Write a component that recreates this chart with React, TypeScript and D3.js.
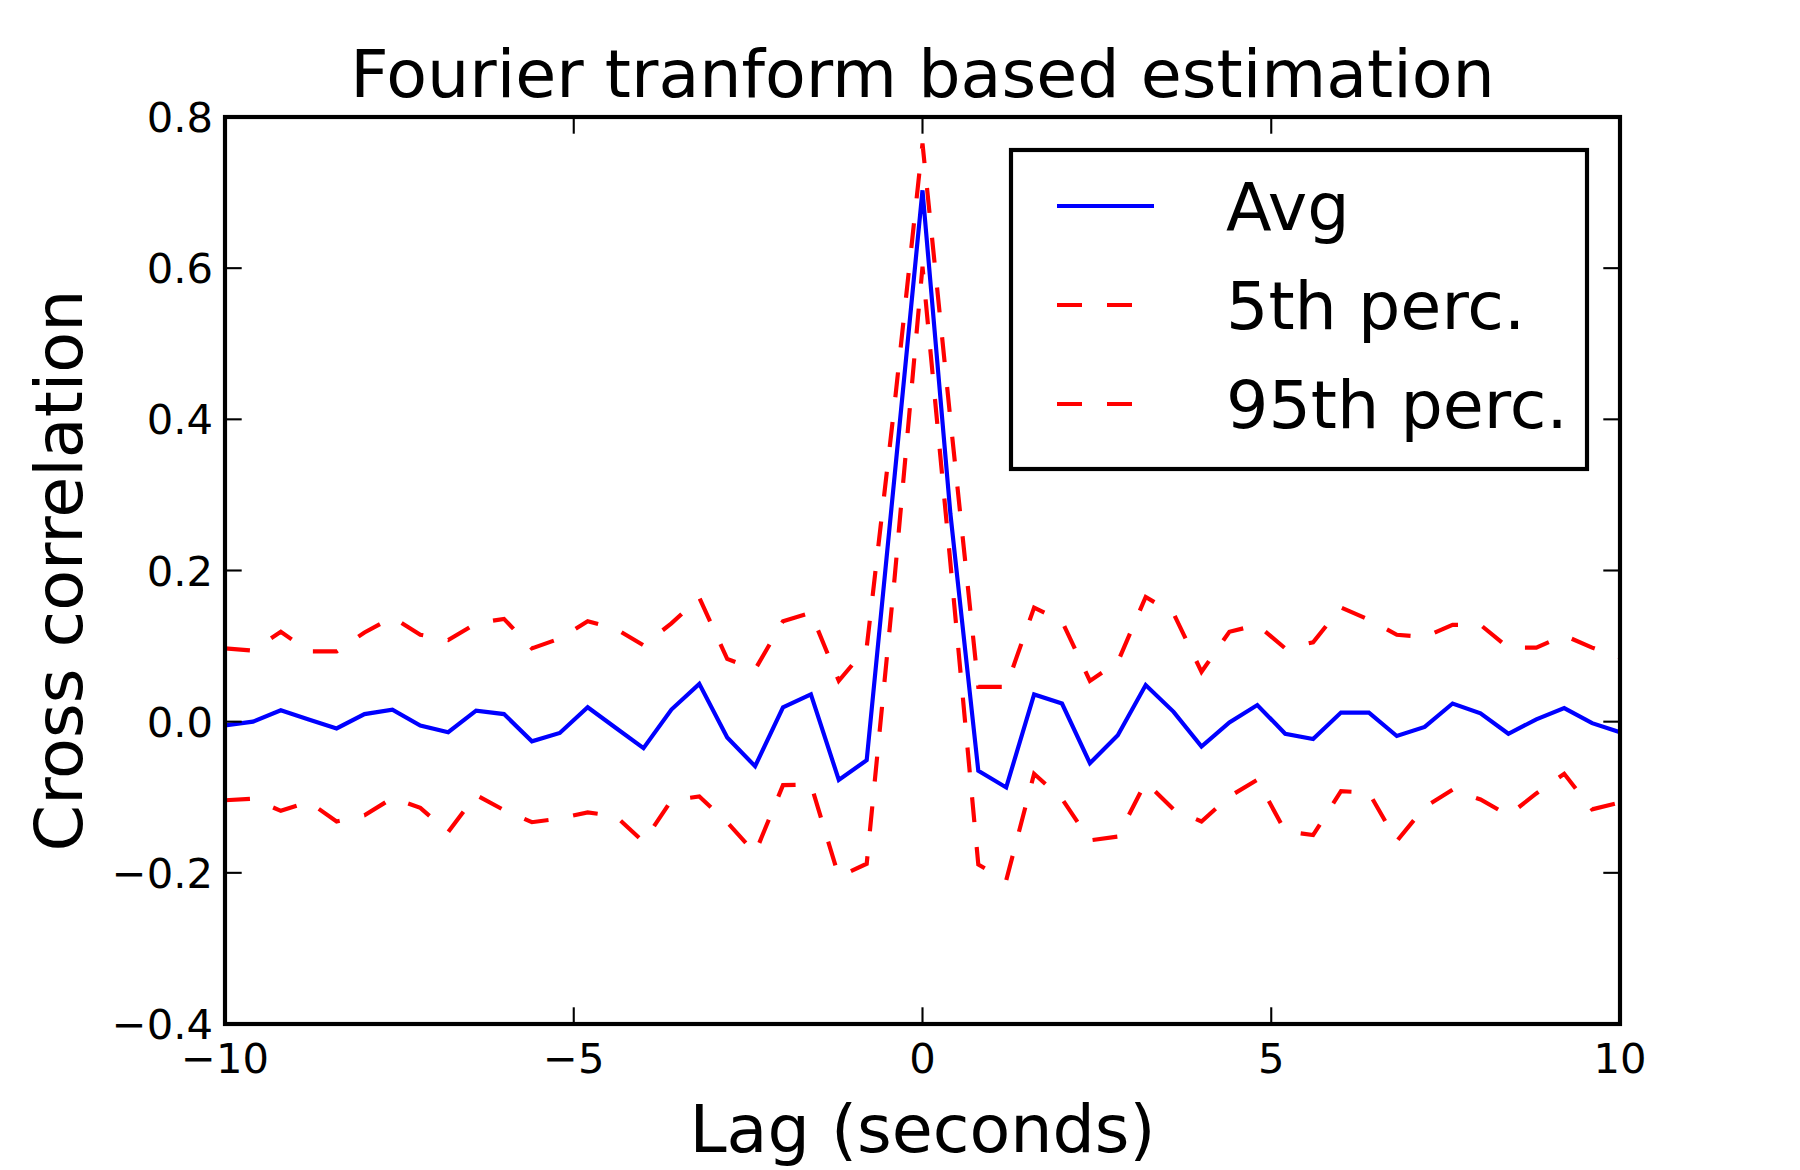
import React from "react";
import * as d3 from "d3";

const lags = [
  -10, -9.6, -9.2, -8.8, -8.4, -8, -7.6, -7.2, -6.8, -6.4, -6, -5.6, -5.2, -4.8, -4.4, -4, -3.6,
  -3.2, -2.8, -2.4, -2, -1.6, -1.2, -0.8, -0.4, 0, 0.4, 0.8, 1.2, 1.6, 2, 2.4, 2.8, 3.2, 3.6, 4,
  4.4, 4.8, 5.2, 5.6, 6, 6.4, 6.8, 7.2, 7.6, 8, 8.4, 8.8, 9.2, 9.6, 10,
];

const avg = [
  -0.005, 0.0, 0.015, 0.003, -0.009, 0.01, 0.016, -0.005, -0.014, 0.0145, 0.01, -0.026, -0.015,
  0.019, -0.008, -0.035, 0.016, 0.05, -0.021, -0.059, 0.019, 0.036, -0.077, -0.051, 0.325, 0.703,
  0.275, -0.065, -0.087, 0.036, 0.024, -0.055, -0.018, 0.0485, 0.013, -0.033, -0.001, 0.022,
  -0.016, -0.023, 0.012, 0.012, -0.019, -0.007, 0.024, 0.011, -0.016, 0.003, 0.018, -0.002, -0.014,
];

const perc5 = [
  -0.104, -0.102, -0.118, -0.106, -0.132, -0.124, -0.101, -0.114, -0.146, -0.097, -0.117, -0.133,
  -0.128, -0.12, -0.125, -0.159, -0.104, -0.099, -0.133, -0.174, -0.084, -0.083, -0.205, -0.188,
  0.19, 0.602, 0.21, -0.189, -0.21, -0.069, -0.102, -0.157, -0.152, -0.08, -0.116, -0.132, -0.099,
  -0.077, -0.145, -0.15, -0.092, -0.094, -0.158, -0.113, -0.09, -0.103, -0.124, -0.095, -0.069,
  -0.116, -0.107,
];

const perc95 = [
  0.097, 0.094, 0.119, 0.093, 0.093, 0.118, 0.138, 0.115, 0.108, 0.13, 0.136, 0.097, 0.11, 0.133,
  0.123, 0.101, 0.13, 0.164, 0.083, 0.069, 0.133, 0.144, 0.054, 0.098, 0.42, 0.765, 0.4, 0.046,
  0.046, 0.151, 0.133, 0.054, 0.079, 0.165, 0.143, 0.066, 0.119, 0.128, 0.097, 0.105, 0.151, 0.135,
  0.115, 0.112, 0.128, 0.128, 0.098, 0.098, 0.114, 0.098, 0.085,
];

const xTicks = [-10, -5, 0, 5, 10];
const yTicks = [-0.4, -0.2, 0.0, 0.2, 0.4, 0.6, 0.8];

const seriesNames = ["Avg", "5th perc.", "95th perc."];

const W = 1800;
const H = 1170;
const M = { left: 225, right: 1620, top: 117, bottom: 1024 };
const FONT = "'DejaVu Sans', 'Bitstream Vera Sans', sans-serif";

const fmtY = (v: number) => {
  const s = Math.abs(v).toFixed(1);
  return v < -1e-9 ? "\u2212" + s : s;
};
const fmtX = (v: number) => (v < 0 ? "\u2212" + Math.abs(v) : String(v));

export default function App() {
  const x = d3.scaleLinear().domain([-10, 10]).range([M.left, M.right]);
  const y = d3.scaleLinear().domain([-0.4, 0.8]).range([M.bottom, M.top]);

  const line = d3
    .line<number>()
    .x((_, i) => x(lags[i]))
    .y((d) => y(d));

  const tickLen = 16.7;
  const tickW = 2.1;
  const lw = 4.17;

  const legend = { x0: 1011, x1: 1587, y0: 150, y1: 469 };
  const legRows = [206, 305, 404];
  const legLineX0 = 1057;
  const legLineX1 = 1154;
  const legTextX = 1226;

  const styles = [
    { stroke: "#0000ff", dash: undefined as string | undefined },
    { stroke: "#ff0000", dash: "25 25" },
    { stroke: "#ff0000", dash: "25 25" },
  ];

  return (
    <svg
      width={W}
      height={H}
      viewBox={`0 0 ${W} ${H}`}
      style={{ position: "absolute", left: 0, top: 0, background: "#ffffff" }}
      fontFamily={FONT}
    >
      <rect x={0} y={0} width={W} height={H} fill="#ffffff" />
      <defs>
        <clipPath id="plotClip">
          <rect x={M.left} y={M.top} width={M.right - M.left} height={M.bottom - M.top} />
        </clipPath>
      </defs>

      {/* data lines */}
      <g clipPath="url(#plotClip)" fill="none">
        <path d={line(perc5) || ""} stroke="#ff0000" strokeWidth={lw} strokeDasharray="25 25" strokeLinejoin="miter" />
        <path d={line(perc95) || ""} stroke="#ff0000" strokeWidth={lw} strokeDasharray="25 25" strokeLinejoin="miter" />
        <path d={line(avg) || ""} stroke="#0000ff" strokeWidth={lw} strokeLinejoin="miter" />
      </g>

      {/* ticks */}
      <g stroke="#000000" strokeWidth={tickW}>
        {xTicks.map((t) => (
          <g key={"xt" + t}>
            <line x1={x(t)} x2={x(t)} y1={M.bottom} y2={M.bottom - tickLen} />
            <line x1={x(t)} x2={x(t)} y1={M.top} y2={M.top + tickLen} />
          </g>
        ))}
        {yTicks.map((t) => (
          <g key={"yt" + t}>
            <line x1={M.left} x2={M.left + tickLen} y1={y(t)} y2={y(t)} />
            <line x1={M.right} x2={M.right - tickLen} y1={y(t)} y2={y(t)} />
          </g>
        ))}
      </g>

      {/* frame */}
      <rect
        x={M.left}
        y={M.top}
        width={M.right - M.left}
        height={M.bottom - M.top}
        fill="none"
        stroke="#000000"
        strokeWidth={4.17}
      />

      {/* tick labels */}
      <g fontSize={41.7} fill="#000000">
        {xTicks.map((t) => (
          <text key={"xl" + t} x={x(t)} y={1073} textAnchor="middle">
            {fmtX(t)}
          </text>
        ))}
        {yTicks.map((t) => (
          <text key={"yl" + t} x={213} y={y(t) + 15} textAnchor="end">
            {fmtY(t)}
          </text>
        ))}
      </g>

      {/* title and axis labels */}
      <text x={(M.left + M.right) / 2} y={97} textAnchor="middle" fontSize={66.7} fill="#000000">
        Fourier tranform based estimation
      </text>
      <text x={(M.left + M.right) / 2} y={1152} textAnchor="middle" fontSize={66.7} fill="#000000">
        Lag (seconds)
      </text>
      <text
        transform={`translate(82, ${(M.top + M.bottom) / 2}) rotate(-90)`}
        textAnchor="middle"
        fontSize={66.7}
        fill="#000000"
      >
        Cross correlation
      </text>

      {/* legend */}
      <rect
        x={legend.x0}
        y={legend.y0}
        width={legend.x1 - legend.x0}
        height={legend.y1 - legend.y0}
        fill="#ffffff"
        stroke="#000000"
        strokeWidth={4.17}
      />
      {seriesNames.map((name, i) => (
        <g key={name}>
          <line
            x1={legLineX0}
            x2={legLineX1}
            y1={legRows[i]}
            y2={legRows[i]}
            stroke={styles[i].stroke}
            strokeWidth={lw}
            strokeDasharray={styles[i].dash}
          />
          <text x={legTextX} y={legRows[i] + 23.5} fontSize={66.7} fill="#000000">
            {name}
          </text>
        </g>
      ))}
    </svg>
  );
}
